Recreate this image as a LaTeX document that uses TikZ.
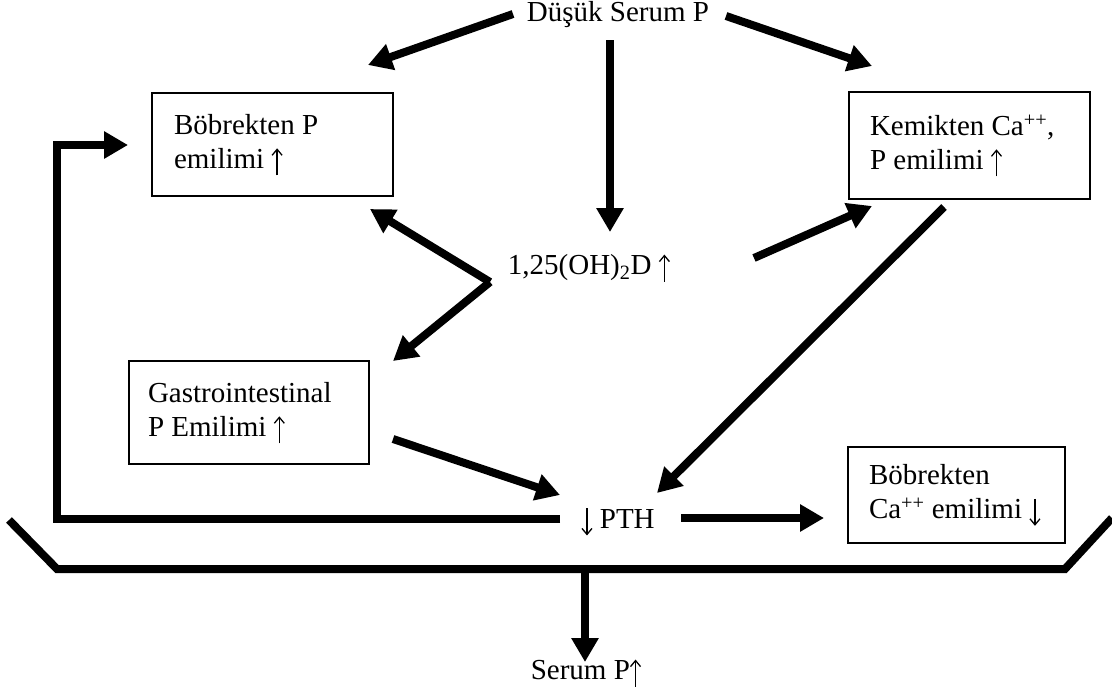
\documentclass[tikz,border=0pt]{standalone}
\usepackage{fontspec}
\setmainfont{Liberation Serif}
\usetikzlibrary{arrows.meta}
% left-aligned two-line block that never wraps
\newcommand{\boxlines}[2]{\makebox[#1][l]{\begin{tabular}{@{}l@{}}#2\end{tabular}}}
% tall thin text arrows
\newcommand{\uparr}{\tikz[baseline=0pt,x=1pt,y=1pt]\draw[line width=1.3pt,-{Straight Barb[length=6pt,width=10pt]}] (0,-7) -- (0,20);}
\newcommand{\dnarr}{\tikz[baseline=0pt,x=1pt,y=1pt]\draw[line width=1.3pt,-{Straight Barb[length=6pt,width=10pt]}] (0,20) -- (0,-7);}
\begin{document}
\begin{tikzpicture}[x=1pt,y=-1pt,
  every node/.style={font=\fontsize{29}{34}\selectfont},
  lbl/.style={inner sep=0pt},
  infobox/.style={draw, line width=1.4pt, inner sep=0pt},
  flow/.style={line width=8pt, -{Triangle[length=24pt,width=26pt]}},
  bar/.style={line width=8pt, line cap=butt, line join=miter}]
\useasboundingbox (0,0) rectangle (1112,694);

% text nodes
\node[lbl] (low) at (618,15) {Düşük Serum P};
\node[lbl] (vitd) at (589,268) {1,25(OH)\textsubscript{2}D \uparr};
\node[lbl] (pth) at (618,522) {\dnarr\ PTH};
\node[lbl] (serum) at (586,673) {Serum P\uparr};

% boxes
\node[infobox, minimum width=241pt, minimum height=103pt] (kidp) at (272.5,144.5)
  {\boxlines{197pt}{Böbrekten P\\ emilimi \uparr}};
\node[infobox, minimum width=241pt, minimum height=107pt] (bone) at (969.5,145.5)
  {\boxlines{199pt}{Kemikten Ca\textsuperscript{++},\\ P emilimi \uparr}};
\node[infobox, minimum width=240pt, minimum height=103pt] (gi) at (249,412.5)
  {\boxlines{202pt}{Gastrointestinal\\ P Emilimi \uparr}};
\node[infobox, minimum width=217pt, minimum height=96pt] (kidca) at (956.5,495)
  {\boxlines{175pt}{Böbrekten\\ Ca\textsuperscript{++} emilimi \dnarr}};

% connector ends
\coordinate (lowL) at (513,14);
\coordinate (kidpT) at (368,65);
\coordinate (lowR) at (726,16);
\coordinate (boneT) at (872,66);
\coordinate (lowD) at (610,40);
\coordinate (vitdT) at (610,232);
\coordinate (vtx) at (490,282);
\coordinate (kidpB) at (370,209);
\coordinate (giT) at (393,361);
\coordinate (vitdR) at (754,258);
\coordinate (boneB) at (872,206);
\coordinate (giR) at (393,439);
\coordinate (pthL) at (560,495);
\coordinate (boneD) at (944,207);
\coordinate (pthR) at (657,493);
\coordinate (fbS) at (560,519);
\coordinate (fbA) at (57,519);
\coordinate (fbB) at (57,145);
\coordinate (kidpL) at (128,145);
\coordinate (pthE) at (681,518);
\coordinate (kidcaL) at (824,518);
\coordinate (brL) at (9,520);
\coordinate (brBL) at (57,569);
\coordinate (brBR) at (1065,569);
\coordinate (brR) at (1112,518);
\coordinate (brM) at (585,569);
\coordinate (serumT) at (585,662);

% arrows from low serum P
\draw[flow] (lowL) -- (kidpT);
\draw[flow] (lowR) -- (boneT);
\draw[flow] (lowD) -- (vitdT);

% arrows from vitamin D
\draw[flow] (vtx) -- (kidpB);
\draw[flow] (vtx) -- (giT);
\draw[flow] (vitdR) -- (boneB);

% into PTH
\draw[flow] (giR) -- (pthL);
\draw[flow] (boneD) -- (pthR);

% feedback to kidney P
\draw[flow, line join=miter] (fbS) -- (fbA) -- (fbB) -- (kidpL);

% PTH to kidney Ca
\draw[flow] (pthE) -- (kidcaL);

% bracket and result
\draw[bar] (brL) -- (brBL) -- (brBR) -- (brR);
\draw[flow] (brM) -- (serumT);
\end{tikzpicture}
\end{document}
